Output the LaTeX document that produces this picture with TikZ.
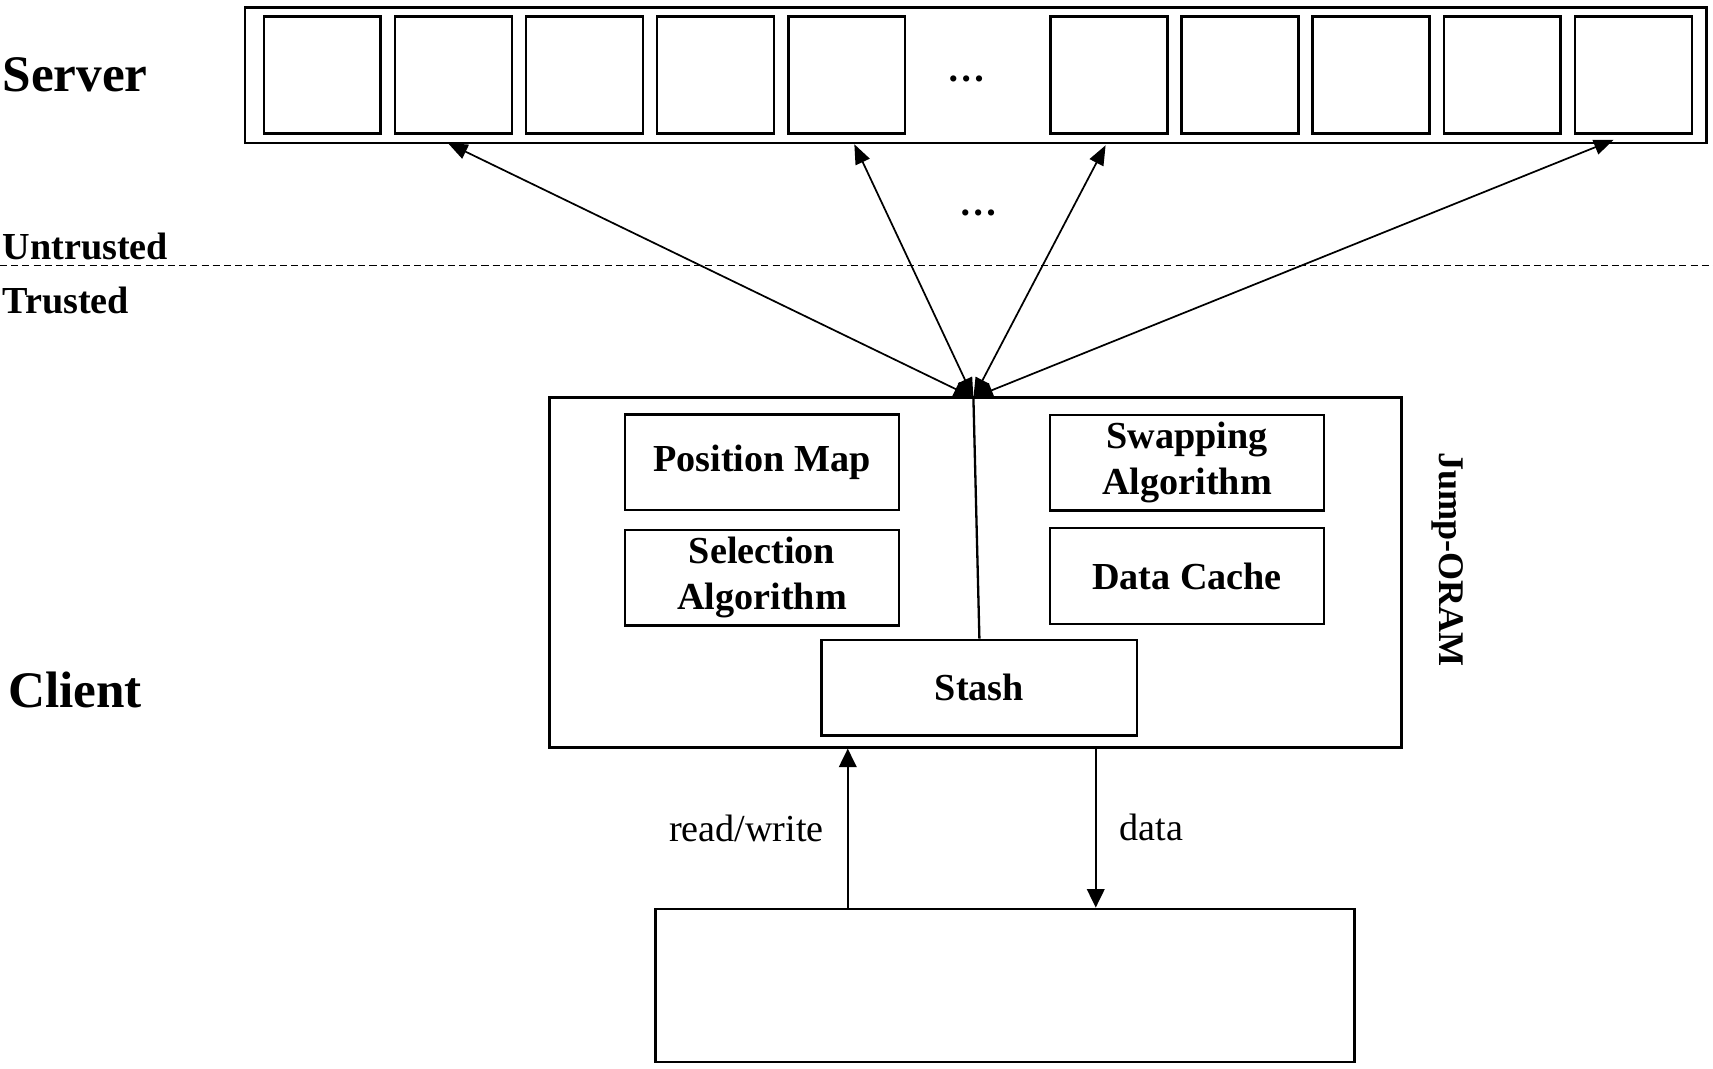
\documentclass[tikz,border=0pt]{standalone}
\usepackage{fontspec}
\setmainfont{Liberation Serif}
\usetikzlibrary{positioning, arrows.meta}

\tikzset{
  cell/.style={draw, line width=1.3pt, minimum width=2.14cm, minimum height=2.14cm, inner sep=0pt},
  block/.style={draw, line width=1.3pt, minimum width=5.02cm, minimum height=1.75cm, inner sep=0pt,
    align=center, font=\fontsize{19.9}{24}\selectfont\bfseries},
  biglabel/.style={anchor=west, inner sep=0pt, font=\fontsize{26.7}{30}\selectfont\bfseries},
  zonelabel/.style={anchor=west, inner sep=0pt, font=\fontsize{19.9}{24}\selectfont\bfseries},
  flowlabel/.style={font=\fontsize{19.9}{24}\selectfont},
  fan/.style={{Triangle[length=0.36cm, width=0.28cm]}-{Triangle[length=0.36cm, width=0.28cm]}, line width=0.9pt},
  flow/.style={-{Triangle[length=0.34cm, width=0.32cm]}, line width=1.2pt}
}

\begin{document}
\begin{tikzpicture}[x=0.02cm, y=-0.02cm, node distance=0.215cm]
  \useasboundingbox (0,0) rectangle (1568,977.6);

  % server storage
  \node[draw, line width=1.4pt, minimum width=26.76cm, minimum height=2.48cm, inner sep=0pt] (server) at (893,69) {};
  \node[cell] (c1) at (295,68.5) {};
  \node[cell] (c2) [right=of c1] {};
  \node[cell] (c3) [right=of c2] {};
  \node[cell] (c4) [right=of c3] {};
  \node[cell] (c5) [right=of c4] {};
  \node[flowlabel, font=\fontsize{19.9}{24}\selectfont\bfseries, anchor=base] (sdots) at (885,75) {\ldots};
  \node[cell] (c6) at (1015,68.5) {};
  \node[cell] (c7) [right=of c6] {};
  \node[cell] (c8) [right=of c7] {};
  \node[cell] (c9) [right=of c8] {};
  \node[cell] (c10) [right=of c9] {};

  \node[biglabel] (srvlbl) at (2,68) {Server};
  \node[biglabel] (clilbl) at (7,632) {Client};
  \node[zonelabel] (untr) at (2,226) {Untrusted};
  \node[zonelabel] (trst) at (2,275) {Trusted};
  \coordinate (dl) at (0,243);
  \coordinate (dr) at (1568,243);
  \draw[dashed, line width=1pt, dash pattern=on 0.13cm off 0.075cm] (dl) -- (dr);

  % client side
  \node[draw, line width=1.4pt, minimum width=15.6cm, minimum height=6.4cm, inner sep=0pt] (jump) at (893,524) {};
  \node[block] (posmap) at (697.5,423) {Position Map};
  \node[block] (select) [below=0.32cm of posmap] {Selection\\Algorithm};
  \node[block] (swap) at (1086.5,423.5) {Swapping\\Algorithm};
  \node[block] (cache) [below=0.28cm of swap] {Data Cache};
  \node[block, minimum width=5.78cm] (stash) at (896.5,629.5) {Stash};
  \node[zonelabel, anchor=center, rotate=-90, font=\fontsize{18.8}{22}\selectfont\bfseries] (jlbl) at (1325,512) {Jump-ORAM};

  \coordinate (hub) at (891,364);
  \coordinate (t1) at (410,131);
  \coordinate (t2) at (782,132);
  \coordinate (t3) at (1012,133);
  \coordinate (t4) at (1477,128);
  \draw[line width=1.2pt] (stash.north) -- (hub);
  \draw[fan] (hub) -- (t1);
  \draw[fan] (hub) -- (t2);
  \draw[fan] (hub) -- (t3);
  \draw[fan] (hub) -- (t4);
  \node[flowlabel, font=\fontsize{19.9}{24}\selectfont\bfseries, anchor=base] (fdots) at (896,197) {\ldots};

  % application
  \node[draw, line width=1.4pt, minimum width=12.8cm, minimum height=2.8cm, inner sep=0pt] (app) at (920,902) {};
  \coordinate (rwfoot) at (776,832);
  \coordinate (dtop) at (1003,684);
  \draw[flow] (rwfoot) -- node[flowlabel, left=0.3cm] (rwlbl) {read/write} (rwfoot |- jump.south);
  \draw[flow] (dtop) -- node[flowlabel, right=0.3cm] (datalbl) {data} (dtop |- app.north);
\end{tikzpicture}
\end{document}
